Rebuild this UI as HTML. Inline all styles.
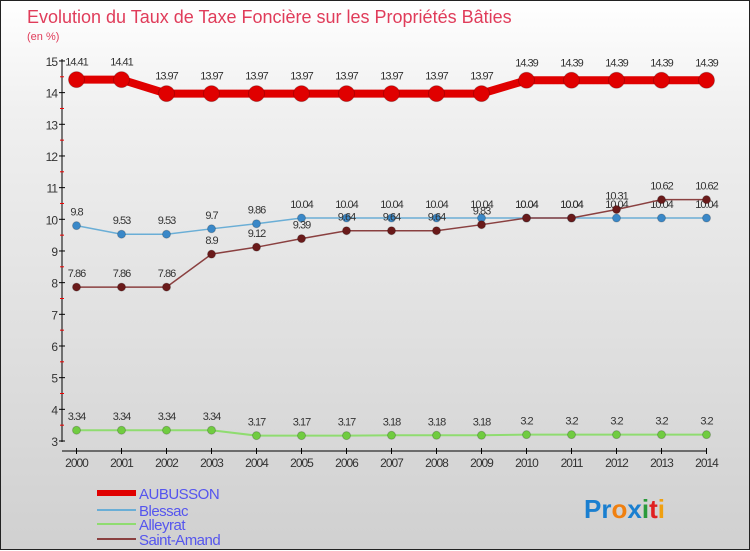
<!DOCTYPE html>
<html><head><meta charset="utf-8"><style>
body{margin:0;width:750px;height:550px;overflow:hidden;font-family:"Liberation Sans",sans-serif}
#wrap{position:relative;width:748px;height:548px;border:1px solid #222;background:linear-gradient(#fff,#f0f0f0 20%,#d0d0d0)}
svg{position:absolute;left:0;top:0}
</style></head><body>
<div id="wrap">
<svg id="c" width="750" height="550"></svg>
</div>
<script>
const years=[2000,2001,2002,2003,2004,2005,2006,2007,2008,2009,2010,2011,2012,2013,2014];
const aubusson=[14.41,14.41,13.97,13.97,13.97,13.97,13.97,13.97,13.97,13.97,14.39,14.39,14.39,14.39,14.39];
const blessac=[9.8,9.53,9.53,9.7,9.86,10.04,10.04,10.04,10.04,10.04,10.04,10.04,10.04,10.04,10.04];
const alleyrat=[3.34,3.34,3.34,3.34,3.17,3.17,3.17,3.18,3.18,3.18,3.2,3.2,3.2,3.2,3.2];
const saintAmand=[7.86,7.86,7.86,8.9,9.12,9.39,9.64,9.64,9.64,9.83,10.04,10.04,10.31,10.62,10.62];
const yTicks=[3,4,5,6,7,8,9,10,11,12,13,14,15];
const NS="http://www.w3.org/2000/svg";
const svg=document.getElementById('c');
const X=i=>75.5+i*45;
const Y=v=>440-(v-3)*31.67;
function el(t,a,p){const e=document.createElementNS(NS,t);for(const k in a)e.setAttribute(k,a[k]);(p||svg).appendChild(e);return e;}
let t=el('text',{x:26,y:22,fill:'#e03c5a','font-size':18});t.textContent='Evolution du Taux de Taxe Foncière sur les Propriétés Bâties';


t=el('text',{x:26,y:39,fill:'#e03c5a','font-size':11});t.textContent='(en %)';


// axes
let a=el('line',{x1:61,y1:58,x2:61,y2:441,stroke:'#000'});


a=el('line',{x1:61,y1:450,x2:706,y2:450,stroke:'#000'});


yTicks.forEach(v=>{
  el('line',{x1:58,y1:Y(v),x2:64,y2:Y(v),stroke:'#000'});
  if(v<15) el('line',{x1:59,y1:Y(v+0.5),x2:63,y2:Y(v+0.5),stroke:'#e00'});
  const l=el('text',{x:56,y:Y(v)+5,'text-anchor':'end','font-size':12,fill:'#333','letter-spacing':'-1'});l.textContent=v;
  
  
});
years.forEach((yr,i)=>{
  el('line',{x1:X(i),y1:447,x2:X(i),y2:453,stroke:'#000'});
  const l=el('text',{x:X(i),y:466,'text-anchor':'middle','font-size':12,fill:'#333','letter-spacing':'-1'});l.textContent=yr;
  
  
});
function series(name,vals,color,w,r,dot){
  const g=el('g',{});
  
  
  el('polyline',{points:vals.map((v,i)=>X(i)+','+Y(v)).join(' '),fill:'none',stroke:color,'stroke-width':w},g);
  vals.forEach((v,i)=>{
    const c=el('circle',{cx:X(i),cy:Y(v),r:r,fill:dot,stroke:'#0003'},g);
    
    
    const l=el('text',{x:X(i),y:Y(v)-(r+6),'text-anchor':'middle','font-size':11,fill:'#333','letter-spacing':'-1'},g);l.textContent=v;
    
    
  });
}
series('blessac',blessac,'#6aaed6',1.5,4,'#3a88c8');
series('saint-amand',saintAmand,'#8a4040',1.5,4,'#6a1a1a');
series('alleyrat',alleyrat,'#8fdc70',2,4,'#70cc40');
series('aubusson',aubusson,'#e00000',8,8,'#e00000');
const leg=[['AUBUSSON','#e00000',6],['Blessac','#6aaed6',2],['Alleyrat','#8fdc70',2],['Saint-Amand','#8a4040',2]];
const ly=[492,509,523,538];
leg.forEach((L,i)=>{
  const g=el('g',{});
  
  
  el('line',{x1:96,y1:ly[i],x2:135,y2:ly[i],stroke:L[1],'stroke-width':L[2]},g);
  const l=el('text',{x:138,y:ly[i]+6,'font-size':15,fill:'#5555ee','letter-spacing':'-0.5'},g);l.textContent=L[0];
});
const logo=el('text',{x:583,y:517,'font-size':26,'font-weight':'bold'});


[['P','#1a7fd0'],['r','#1a7fd0'],['o','#f08010'],['x','#1a7fd0'],['i','#2a9a3a'],['t','#e02020'],['i','#f0a010']].forEach(p=>{const s=el('tspan',{fill:p[1]},logo);s.textContent=p[0];});
</script>
</body></html>
